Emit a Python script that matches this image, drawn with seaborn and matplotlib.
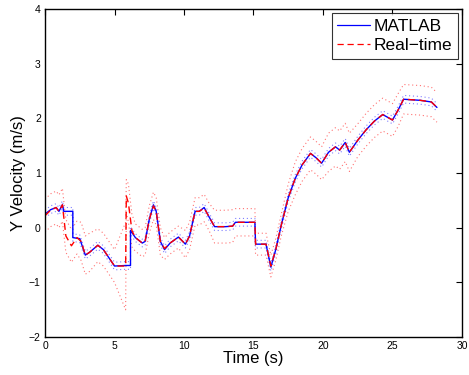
import numpy as np
import pandas as pd
import matplotlib
matplotlib.use("Agg")
import matplotlib.pyplot as plt
import seaborn as sns

# MATLAB estimate (time s, Y velocity m/s)
matlab_t = [0.0, 0.4, 0.8, 1.0, 1.25, 1.35, 2.0, 2.0, 2.5, 2.9, 3.2, 3.8, 4.2, 4.6, 5.0, 5.8,
            6.15, 6.15, 6.5, 7.0, 7.2, 7.5, 7.8, 8.0, 8.3, 8.6, 9.0, 9.6, 10.1, 10.4, 10.8, 11.1,
            11.45, 11.8, 12.2, 13.0, 13.5, 13.7, 15.1, 15.15, 15.9, 16.25, 16.6, 17.0, 17.5, 18.0,
            18.5, 19.1, 19.5, 19.9, 20.4, 20.9, 21.2, 21.6, 21.9, 22.5, 23.1, 23.7, 24.3, 25.0,
            25.4, 25.8, 26.4, 27.0, 27.8, 28.2]
matlab_v = [0.25, 0.33, 0.37, 0.30, 0.42, 0.30, 0.30, -0.18, -0.20, -0.50, -0.45, -0.32, -0.40,
            -0.55, -0.70, -0.69, -0.69, -0.05, -0.18, -0.28, -0.25, 0.15, 0.42, 0.30, -0.25, -0.40,
            -0.28, -0.17, -0.30, -0.15, 0.30, 0.30, 0.37, 0.20, 0.02, 0.02, 0.03, 0.10, 0.10, -0.30,
            -0.30, -0.72, -0.40, 0.05, 0.55, 0.90, 1.15, 1.36, 1.28, 1.18, 1.38, 1.48, 1.42, 1.56,
            1.38, 1.60, 1.79, 1.95, 2.07, 1.97, 2.15, 2.35, 2.34, 2.33, 2.30, 2.20]
matlab_band = 0.07

# Real-time estimate
rt_t = [0.0, 0.4, 0.8, 1.0, 1.25, 1.5, 1.9, 2.3, 2.6, 2.9, 3.2, 3.8, 4.2, 4.6, 5.0, 5.8, 5.85,
        6.0, 6.25, 6.5, 7.0, 7.2, 7.5, 7.8, 8.0, 8.3, 8.6, 9.0, 9.6, 10.1, 10.4, 10.8, 11.1, 11.45,
        11.8, 12.2, 13.0, 13.5, 13.7, 15.1, 15.15, 15.9, 16.25, 16.6, 17.0, 17.5, 18.0, 18.5, 19.1,
        19.5, 19.9, 20.4, 20.9, 21.2, 21.6, 21.9, 22.5, 23.1, 23.7, 24.3, 25.0, 25.4, 25.8, 26.4,
        27.0, 27.8, 28.2]
rt_v = [0.22, 0.32, 0.37, 0.30, 0.42, -0.15, -0.33, -0.18, -0.25, -0.50, -0.45, -0.32, -0.40,
        -0.55, -0.70, -0.70, 0.58, 0.45, -0.05, -0.18, -0.28, -0.25, 0.15, 0.40, 0.30, -0.25,
        -0.38, -0.28, -0.17, -0.30, -0.15, 0.30, 0.30, 0.36, 0.20, 0.02, 0.02, 0.03, 0.10, 0.10,
        -0.30, -0.30, -0.70, -0.40, 0.05, 0.55, 0.90, 1.15, 1.36, 1.28, 1.18, 1.38, 1.48, 1.42,
        1.56, 1.38, 1.60, 1.79, 1.95, 2.07, 1.97, 2.15, 2.35, 2.34, 2.33, 2.30, 2.20]
rt_band = [0.3, 0.3, 0.3, 0.3, 0.3, 0.3, 0.3, 0.3, 0.35, 0.35, 0.35, 0.3, 0.3, 0.3, 0.3,
           0.8, 0.3, 0.35, 0.3, 0.25, 0.25, 0.25, 0.25, 0.25, 0.25, 0.25, 0.2, 0.2, 0.2, 0.25,
           0.25, 0.25, 0.25, 0.25, 0.25, 0.3, 0.3, 0.3, 0.25, 0.25, 0.2, 0.2, 0.2, 0.2, 0.2,
           0.25, 0.3, 0.3, 0.3, 0.3, 0.3, 0.35, 0.35, 0.35, 0.35, 0.35, 0.3, 0.3, 0.3, 0.3,
           0.3, 0.3, 0.27, 0.27, 0.27, 0.27, 0.27]

sns.set_style("white")
plt.rcParams["font.family"] = ["Liberation Sans", "DejaVu Sans"]
plt.rcParams["text.color"] = "black"
plt.rcParams["axes.labelcolor"] = "black"

matlab = pd.DataFrame({"t": matlab_t, "v": matlab_v})
matlab["lo"] = matlab["v"] - matlab_band
matlab["hi"] = matlab["v"] + matlab_band
rt = pd.DataFrame({"t": rt_t, "v": rt_v, "s": rt_band})
rt["lo"] = rt["v"] - rt["s"]
rt["hi"] = rt["v"] + rt["s"]

fig = plt.figure(figsize=(4.69, 3.75), dpi=100)
ax = fig.add_axes([0.096, 0.101, 0.889, 0.875])

dots = (0, (1, 2.5))
for col in ["lo", "hi"]:
    sns.lineplot(data=rt, x="t", y=col, ax=ax, estimator=None, sort=False,
                 color=(1, 0.45, 0.45), lw=0.8, linestyle=dots)
    sns.lineplot(data=matlab, x="t", y=col, ax=ax, estimator=None, sort=False,
                 color=(0.5, 0.5, 1), lw=0.8, linestyle=dots)

sns.lineplot(data=matlab, x="t", y="v", ax=ax, estimator=None, sort=False,
             color="blue", lw=1.0, label="MATLAB")
sns.lineplot(data=rt, x="t", y="v", ax=ax, estimator=None, sort=False,
             color="red", lw=1.0, linestyle=(0, (5, 3)), label="Real\u2212time")

ax.set_xlim(0, 30)
ax.set_ylim(-2, 4)
ax.set_xticks([0, 5, 10, 15, 20, 25, 30])
ax.set_yticks([-2, -1, 0, 1, 2, 3, 4])
ax.set_yticklabels(["\u22122", "\u22121", "0", "1", "2", "3", "4"])
ax.tick_params(direction="in", length=4, width=0.8, labelsize=7.5, top=True, right=True,
               colors="black", pad=3)
for sp in ax.spines.values():
    sp.set_color("black")
    sp.set_linewidth(1.0)
ax.set_xlabel("Time (s)", fontsize=12, labelpad=0)
ax.set_ylabel("Y Velocity (m/s)", fontsize=12, labelpad=2)

leg = ax.legend(loc="upper right", fontsize=12.5, frameon=True, fancybox=False,
                handlelength=1.9, handletextpad=0.2, borderpad=0.3, labelspacing=0.26,
                borderaxespad=0.25)
leg.get_frame().set_edgecolor("black")
leg.get_frame().set_linewidth(0.8)
for line in leg.get_lines():
    line.set_linewidth(0.9)

fig.savefig("out.png", dpi=100)
